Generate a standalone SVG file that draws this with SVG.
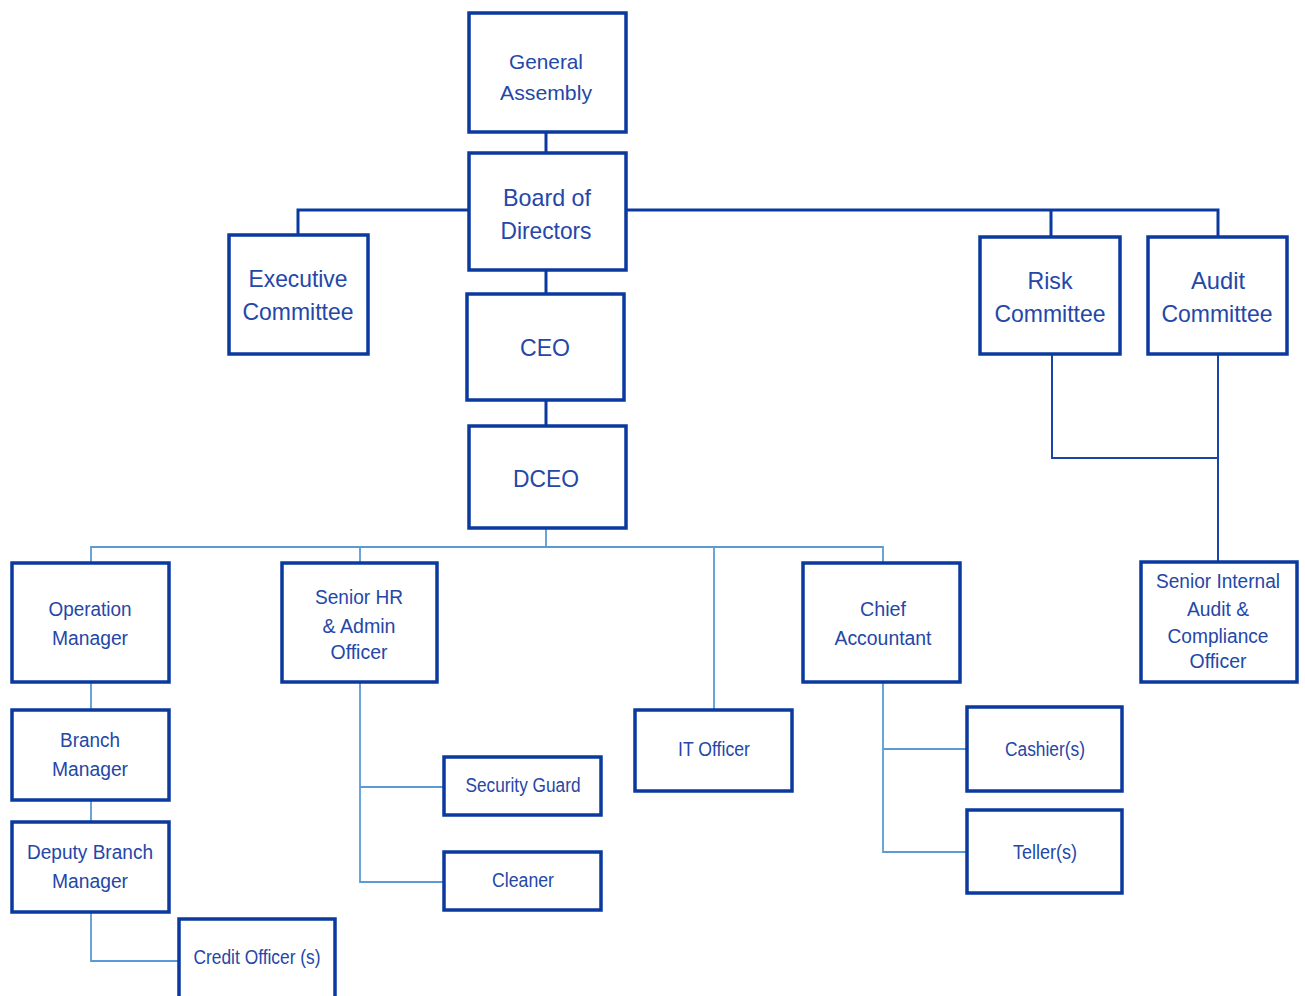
<svg xmlns="http://www.w3.org/2000/svg" width="1305" height="996" viewBox="0 0 1305 996">
<style>
.box{fill:#fff;stroke:#0a3a9f;stroke-width:3.5}
.t{font-family:"Liberation Sans",Arial,sans-serif;fill:#2447a8;text-anchor:middle}
.big{font-size:24px}
.mid{font-size:21px}
.sm{font-size:20px}
.dk{stroke:#0a3a9f;stroke-width:3;fill:none}
.dk2{stroke:#1a45a8;stroke-width:2;fill:none}
.lt{stroke:#5b9bd5;stroke-width:1.8;fill:none}
</style>
<rect width="1305" height="996" fill="#fff"/>
<g id="connectors">
<path class="dk" d="M546 132V153M298 235V210H469M626 210H1218V237M1051 210V237M546 270V294M546 400V426"/>
<path class="dk2" d="M1052 354V458H1218M1218 354V562"/>
<path class="lt" d="M546 528V547M91 563V547H883V563M360 547V563M714 547V710M91 682V710M91 800V822M91 912V961H179M360 682V882H444M360 787H444M883 682V852H967M883 749H967"/>
</g>
<g id="general-assembly"><rect class="box" x="469" y="13" width="157" height="119"/><text class="t mid" x="546" y="69" textLength="74" lengthAdjust="spacingAndGlyphs">General</text><text class="t mid" x="546" y="100" textLength="92" lengthAdjust="spacingAndGlyphs">Assembly</text></g>
<g id="board"><rect class="box" x="469" y="153" width="157" height="117"/><text class="t big" x="547" y="206" textLength="88" lengthAdjust="spacingAndGlyphs">Board of</text><text class="t big" x="546" y="239" textLength="91" lengthAdjust="spacingAndGlyphs">Directors</text></g>
<g id="executive"><rect class="box" x="229" y="235" width="139" height="119"/><text class="t big" x="298" y="287" textLength="99" lengthAdjust="spacingAndGlyphs">Executive</text><text class="t big" x="298" y="320" textLength="111" lengthAdjust="spacingAndGlyphs">Committee</text></g>
<g id="ceo"><rect class="box" x="467" y="294" width="157" height="106"/><text class="t big" x="545" y="356" textLength="50" lengthAdjust="spacingAndGlyphs">CEO</text></g>
<g id="dceo"><rect class="box" x="469" y="426" width="157" height="102"/><text class="t big" x="546" y="487" textLength="66" lengthAdjust="spacingAndGlyphs">DCEO</text></g>
<g id="risk"><rect class="box" x="980" y="237" width="140" height="117"/><text class="t big" x="1050" y="289" textLength="45" lengthAdjust="spacingAndGlyphs">Risk</text><text class="t big" x="1050" y="322" textLength="111" lengthAdjust="spacingAndGlyphs">Committee</text></g>
<g id="audit"><rect class="box" x="1148" y="237" width="139" height="117"/><text class="t big" x="1218" y="289" textLength="54" lengthAdjust="spacingAndGlyphs">Audit</text><text class="t big" x="1217" y="322" textLength="111" lengthAdjust="spacingAndGlyphs">Committee</text></g>
<g id="senior-audit"><rect class="box" x="1141" y="562" width="156" height="120"/><text class="t sm" x="1218" y="588" textLength="124" lengthAdjust="spacingAndGlyphs">Senior Internal</text><text class="t sm" x="1218" y="616" textLength="62" lengthAdjust="spacingAndGlyphs">Audit &amp;</text><text class="t sm" x="1218" y="643" textLength="101" lengthAdjust="spacingAndGlyphs">Compliance</text><text class="t sm" x="1218" y="668" textLength="57" lengthAdjust="spacingAndGlyphs">Officer</text></g>
<g id="operation"><rect class="box" x="12" y="563" width="157" height="119"/><text class="t sm" x="90" y="616" textLength="83" lengthAdjust="spacingAndGlyphs">Operation</text><text class="t sm" x="90" y="645" textLength="76" lengthAdjust="spacingAndGlyphs">Manager</text></g>
<g id="senior-hr"><rect class="box" x="282" y="563" width="155" height="119"/><text class="t sm" x="359" y="604" textLength="88" lengthAdjust="spacingAndGlyphs">Senior HR</text><text class="t sm" x="359" y="633" textLength="73" lengthAdjust="spacingAndGlyphs">&amp; Admin</text><text class="t sm" x="359" y="659" textLength="57" lengthAdjust="spacingAndGlyphs">Officer</text></g>
<g id="chief-accountant"><rect class="box" x="803" y="563" width="157" height="119"/><text class="t sm" x="883" y="616" textLength="46" lengthAdjust="spacingAndGlyphs">Chief</text><text class="t sm" x="883" y="645" textLength="97" lengthAdjust="spacingAndGlyphs">Accountant</text></g>
<g id="it-officer"><rect class="box" x="635" y="710" width="157" height="81"/><text class="t sm" x="714" y="756" textLength="72" lengthAdjust="spacingAndGlyphs">IT Officer</text></g>
<g id="cashier"><rect class="box" x="967" y="707" width="155" height="84"/><text class="t sm" x="1045" y="756" textLength="80" lengthAdjust="spacingAndGlyphs">Cashier(s)</text></g>
<g id="teller"><rect class="box" x="967" y="810" width="155" height="83"/><text class="t sm" x="1045" y="859" textLength="64" lengthAdjust="spacingAndGlyphs">Teller(s)</text></g>
<g id="security-guard"><rect class="box" x="444" y="757" width="157" height="58"/><text class="t sm" x="523" y="792" textLength="115" lengthAdjust="spacingAndGlyphs">Security Guard</text></g>
<g id="cleaner"><rect class="box" x="444" y="852" width="157" height="58"/><text class="t sm" x="523" y="887" textLength="62" lengthAdjust="spacingAndGlyphs">Cleaner</text></g>
<g id="branch-manager"><rect class="box" x="12" y="710" width="157" height="90"/><text class="t sm" x="90" y="747" textLength="60" lengthAdjust="spacingAndGlyphs">Branch</text><text class="t sm" x="90" y="776" textLength="76" lengthAdjust="spacingAndGlyphs">Manager</text></g>
<g id="deputy-branch-manager"><rect class="box" x="12" y="822" width="157" height="90"/><text class="t sm" x="90" y="859" textLength="126" lengthAdjust="spacingAndGlyphs">Deputy Branch</text><text class="t sm" x="90" y="888" textLength="76" lengthAdjust="spacingAndGlyphs">Manager</text></g>
<g id="credit-officer"><rect class="box" x="179" y="919" width="156" height="90"/><text class="t sm" x="257" y="964" textLength="127" lengthAdjust="spacingAndGlyphs">Credit Officer (s)</text></g>
</svg>
